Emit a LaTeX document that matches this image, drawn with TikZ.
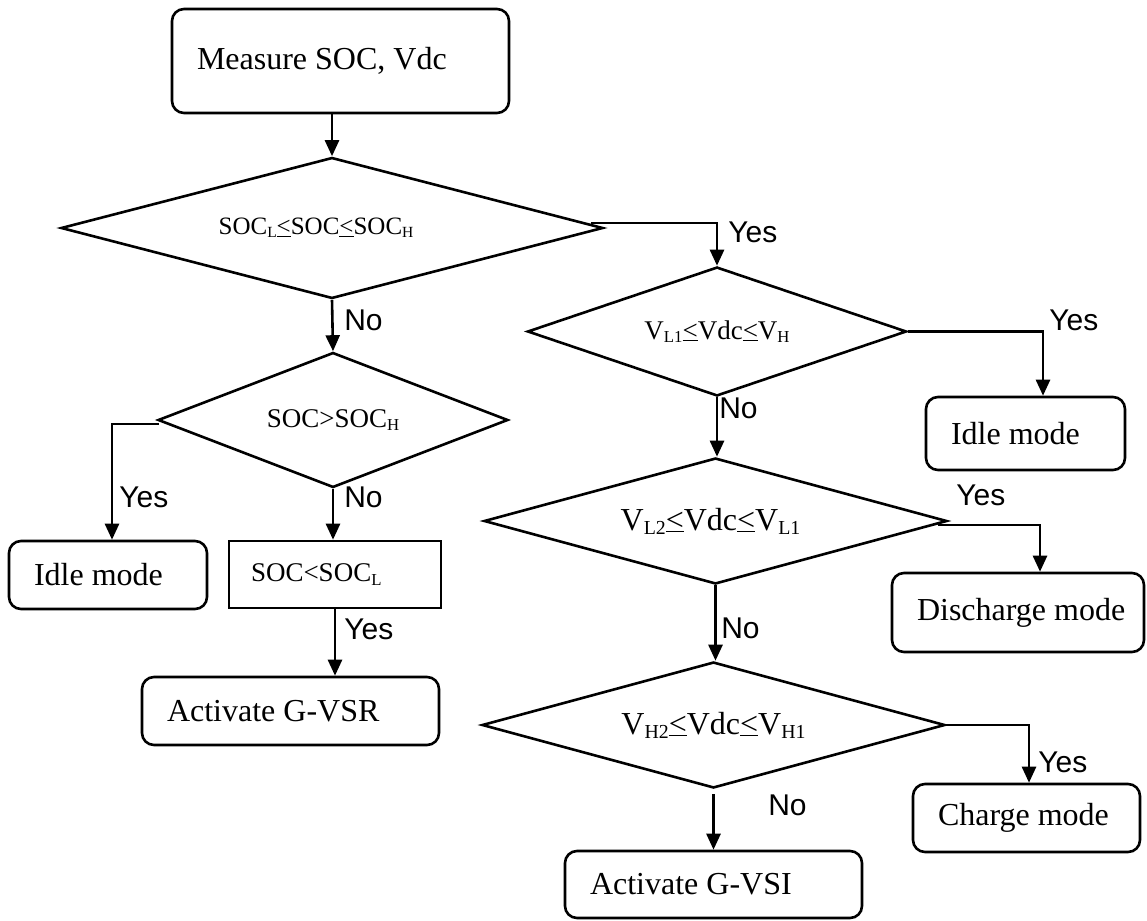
\documentclass[tikz,border=0pt]{standalone}
\usepackage{fontspec}
\setmainfont{Liberation Serif}
\newfontfamily\labelsans{Liberation Sans}
\usetikzlibrary{shapes.geometric,arrows.meta}
% small lowered index and an underlined "<" as used in the conditions
\newcommand\lsub[1]{\raisebox{-0.12em}{\scalebox{0.62}{#1}}}
\newcommand\leu{\underline{<}}
% left-aligned text of fixed width inside a box
\newcommand\lbox[2]{\makebox[#1][l]{#2}}

\begin{document}
\begin{tikzpicture}[x=1pt,y=-1pt,
  line width=2.6pt,
  arr/.style={-{Triangle[length=16pt,width=14pt]}},
  modebox/.style={draw, rounded corners=12pt, inner xsep=25pt, inner ysep=0pt,
    font=\fontsize{32pt}{36pt}\selectfont},
  testbox/.style={draw, inner xsep=22pt, inner ysep=0pt,
    font=\fontsize{27pt}{30pt}\selectfont},
  decision/.style={draw, diamond, inner sep=0pt},
  yn/.style={inner sep=0pt, anchor=base west,
    font=\labelsans\fontsize{30pt}{34pt}\selectfont}
]
\useasboundingbox (0,0) rectangle (1147,920);

% process and mode boxes
\node[modebox, minimum height=104pt] (meas) at (340.5,61) {\lbox{287pt}{Measure SOC, Vdc}};
\node[modebox, minimum height=68pt] (idleL) at (108,575) {\lbox{148pt}{Idle mode}};
\node[testbox, minimum height=67pt] (socl) at (335,574.5) {\lbox{168pt}{SOC<SOC\lsub{L}}};
\node[modebox, minimum height=68pt] (gvsr) at (290.5,711) {\lbox{247pt}{Activate G-VSR}};
\node[modebox, minimum height=73pt] (idleR) at (1025.5,433.5) {\lbox{149pt}{Idle mode}};
\node[modebox, minimum height=79pt] (dis) at (1018,612.5) {\lbox{202pt}{Discharge mode}};
\node[modebox, minimum height=68pt] (chg) at (1026.5,818) {\lbox{177pt}{Charge mode}};
\node[modebox, minimum height=67pt] (gvsi) at (713.5,884.5) {\lbox{247pt}{Activate G-VSI}};

% decisions
\node[decision, shape aspect=3.84, minimum width=542pt, minimum height=141pt,
  font=\fontsize{25pt}{28pt}\selectfont] (d1) at (332,228)
  {SOC\lsub{L}\leu SOC\leu SOC\lsub{H}\rule{32pt}{0pt}};
\node[decision, shape aspect=2.94, minimum width=379pt, minimum height=129pt,
  font=\fontsize{27pt}{30pt}\selectfont] (d2) at (717,331.5)
  {V\lsub{L1}\leu Vdc\leu V\lsub{H}};
\node[decision, shape aspect=2.6, minimum width=350pt, minimum height=135pt,
  font=\fontsize{27pt}{30pt}\selectfont] (d3) at (333,420)
  {SOC>SOC\lsub{H}};
\node[decision, shape aspect=3.67, minimum width=463pt, minimum height=126pt,
  font=\fontsize{32pt}{36pt}\selectfont] (d4) at (715.5,521)
  {V\lsub{L2}\leu Vdc\leu V\lsub{L1}\rule{10pt}{0pt}};
\node[decision, shape aspect=3.67, minimum width=463pt, minimum height=126pt,
  font=\fontsize{32pt}{36pt}\selectfont] (d5) at (713.5,725)
  {V\lsub{H2}\leu Vdc\leu V\lsub{H1}};

% connectors
\draw[arr] (meas.south -| d1.north) -- (d1.north);
\draw[arr] ([xshift=-13pt,yshift=5pt]d1.east) -| (d2.north);
\draw[arr] (d1.south) -- (d3.north);
\draw[arr] ([xshift=2pt,yshift=-4pt]d3.west) -| ([xshift=4pt]idleL.north);
\draw[arr] (d3.south) -- (d3.south |- socl.north);
\draw[arr] (socl.south) -- (socl.south |- gvsr.north);
\draw[arr] (d2.east) -| ([xshift=17.5pt]idleR.north);
\draw[arr] (d2.south) -- (d2.south |- d4.north);
\draw[arr] ([xshift=-10pt,yshift=-4pt]d4.east) -| ([xshift=22pt]dis.north);
\draw[arr] (d4.south) -- (d4.south |- d5.north);
\draw[arr] (d5.east) -| ([xshift=2.5pt]chg.north);
\draw[arr] ([yshift=-5pt]d5.south) -- (d5.south |- gvsi.north);

% branch labels
\node[yn] (y1) at (727,242) {Yes};
\node[yn] (n1) at (343,330) {No};
\node[yn] (y3) at (118,507) {Yes};
\node[yn] (n3) at (343,507) {No};
\node[yn] (y4) at (343,639) {Yes};
\node[yn] (n2) at (718,418) {No};
\node[yn] (y2) at (1048,330) {Yes};
\node[yn] (y5) at (955,505) {Yes};
\node[yn] (n4) at (720,638) {No};
\node[yn] (y6) at (1037,772) {Yes};
\node[yn] (n5) at (767,815) {No};
\end{tikzpicture}
\end{document}
